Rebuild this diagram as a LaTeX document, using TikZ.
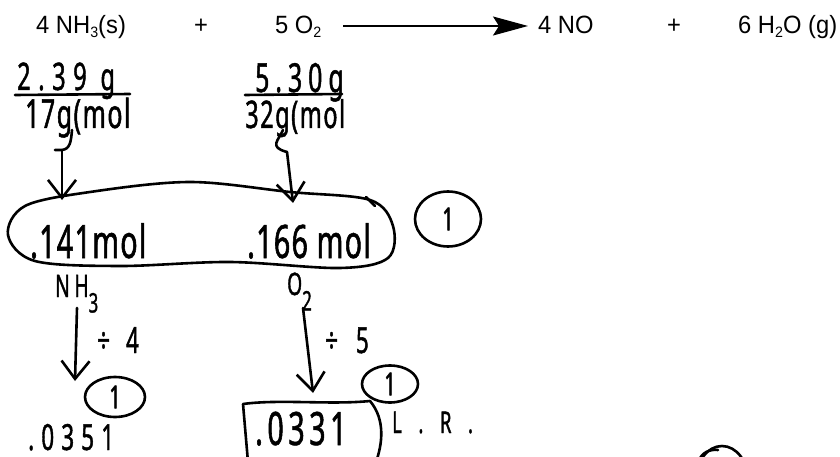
\documentclass[tikz,border=0pt]{standalone}
\usepackage{fontspec}
\setmainfont{Liberation Sans}[FakeStretch=0.95]
\newfontfamily\hand[FakeStretch=0.62,FakeBold=1.2]{Noto Sans}
\usetikzlibrary{arrows.meta,shapes.geometric}
\newcommand{\chsub}[1]{\raisebox{-0.15em}{\fontsize{15}{15}\selectfont #1}}
\newcommand{\hsub}[1]{\raisebox{-0.5em}{\fontsize{27}{27}\selectfont #1}}
\begin{document}
\begin{tikzpicture}[x=1pt,y=-1pt,
  print/.style={font=\fontsize{25}{25}\selectfont, inner sep=0pt, anchor=base west},
  hw/.style={inner sep=0pt, anchor=base west},
  ink/.style={line width=2.6pt, line cap=round, line join=round},
  handarrow/.style={ink, -{Straight Barb[length=18pt,width=28pt,line width=2.6pt]}},
  toparrow/.style={line width=1.6pt, -{Stealth[length=35pt,width=19pt,inset=6pt]}},
  circone/.style={ink, draw, ellipse, inner sep=0pt, font=\hand\fontsize{32}{32}\selectfont}
]
\useasboundingbox (0,0) rectangle (840,457);
\clip (0,0) rectangle (840,457);
\fill[white] (0,0) rectangle (840,457);

% printed equation
\node[print] (r1) at (36,34) {4 NH\chsub{3}(s)};
\node[print] (p1) at (194,34) {+};
\node[print] (r2) at (275,34) {5 O\chsub{2}};
\node[print] (q1) at (538,34) {4 NO};
\node[print] (p2) at (667,34) {+};
\node[print] (q2) at (738,34) {6 H\chsub{2}O (g)};
\coordinate (arA) at (343,26);
\coordinate (arB) at (528,26);
\draw[toparrow] (arA) -- (arB);

% fractions
\node[hw, font=\hand\fontsize{38}{38}\selectfont\addfontfeature{LetterSpace=20}] (n1) at (17,90) {2.39 g};
\draw[ink] (15,95) -- (130,94);
\node[hw, font=\hand\fontsize{40}{40}\selectfont\addfontfeature{LetterSpace=4}] (d1) at (25,128) {17g(mol};
\node[hw, font=\hand\fontsize{40}{40}\selectfont\addfontfeature{LetterSpace=15}] (n2) at (255,92) {5.30g};
\draw[ink] (245,95) -- (342,94);
\node[hw, font=\hand\fontsize{38}{38}\selectfont\addfontfeature{LetterSpace=4}] (d2) at (245,128) {32g(mol};

% curls and arrows to the blob
\coordinate (c1a) at (72,130);
\coordinate (c1b) at (62,150);
\coordinate (c1c) at (62,200);
\draw[ink] (c1a) .. controls (71,142) and (70,149) .. (c1b) -- (55,150);
\draw[handarrow] (c1b) -- (c1c);
\coordinate (c2a) at (283,130);
\coordinate (c2b) at (287,152);
\coordinate (c2c) at (293,203);
\draw[ink] (c2a) .. controls (279,140) and (268,147) .. (c2b);
\draw[handarrow] (c2b) -- (c2c);

% blob
\draw[ink] plot[smooth cycle, tension=0.55] coordinates {(8,235) (25,206) (90,192) (190,182) (290,192) (370,200) (393,226) (388,258) (340,268) (230,262) (120,266) (35,261)};
\draw[ink] (366,197) -- (375,206);
\node[hw, font=\hand\fontsize{46}{46}\selectfont\addfontfeature{LetterSpace=3}] (m1) at (30,258) {.141mol};
\node[hw, font=\hand\fontsize{46}{46}\selectfont\addfontfeature{LetterSpace=3}] (m2) at (247,258) {.166 mol};
\node[circone, minimum width=66pt, minimum height=55pt] (k1) at (448,219) {1};

% labels under blob
\node[hw, font=\hand\fontsize{31}{31}\selectfont\addfontfeature{LetterSpace=15}] (s1) at (55,297) {NH\hsub{3}};
\node[hw, font=\hand\fontsize{31}{31}\selectfont\addfontfeature{LetterSpace=15}] (s2) at (287,295) {O\hsub{2}};

% division arrows
\coordinate (e1a) at (77,308);
\coordinate (e1b) at (75,381);
\draw[handarrow] (e1a) -- (e1b);
\node[hw, font=\hand\fontsize{36}{36}\selectfont\addfontfeature{LetterSpace=45}] (f1) at (97,353) {÷4};
\coordinate (e2a) at (303,308);
\coordinate (e2b) at (313,393);
\draw[handarrow] (e2a) -- (e2b);
\node[hw, font=\hand\fontsize{36}{36}\selectfont\addfontfeature{LetterSpace=50}] (f2) at (325,353) {÷5};

% small circled ones
\node[circone, minimum width=60pt, minimum height=40pt] (k2) at (115,397) {1};
\node[circone, minimum width=56pt, minimum height=37pt] (k3) at (390,384) {1};

% results
\node[hw, font=\hand\fontsize{36}{36}\selectfont\addfontfeature{LetterSpace=20}] (v1) at (28,450) {.0351};
\draw[ink] (248,462) -- (243,404) .. controls (280,399) and (330,405) .. (370,401) .. controls (386,420) and (382,445) .. (376,462);
\node[hw, font=\hand\fontsize{46}{46}\selectfont\addfontfeature{LetterSpace=10}] (v2) at (255,445) {.0331};
\node[hw, font=\hand\fontsize{30}{30}\selectfont\addfontfeature{LetterSpace=55}] (lr) at (392,433) {L.R.};

% partial circle at bottom right
\draw[ink] (722,480) ellipse [x radius=26, y radius=34];
\draw[ink] (698,462) .. controls (702,452) and (710,449) .. (718,450);
\end{tikzpicture}
\end{document}
